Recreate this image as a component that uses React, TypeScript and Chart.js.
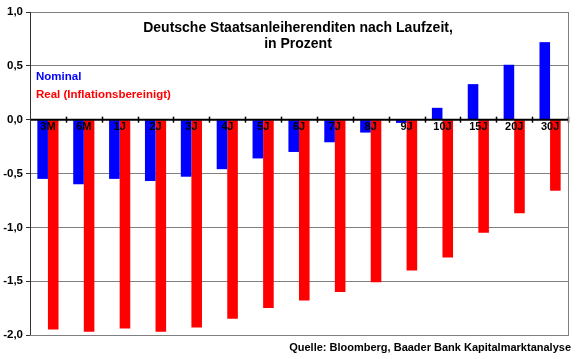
import React, { useEffect, useRef } from "react";
import { Chart, registerables } from "chart.js";

Chart.register(...registerables);

const categories = ["3M", "6M", "1J", "2J", "3J", "4J", "5J", "6J", "7J", "8J", "9J", "10J", "15J", "20J", "30J"];
const nominal = [-0.55, -0.6, -0.55, -0.57, -0.53, -0.46, -0.36, -0.3, -0.21, -0.12, -0.03, 0.11, 0.33, 0.51, 0.72];
const real = [-1.95, -1.97, -1.94, -1.97, -1.93, -1.85, -1.75, -1.68, -1.6, -1.51, -1.4, -1.28, -1.05, -0.87, -0.66];
const titleLines = ["Deutsche Staatsanleiherenditen nach Laufzeit,", "in Prozent"];
const legendLabels = ["Nominal", "Real (Inflationsbereinigt)"];
const sourceText = "Quelle: Bloomberg, Baader Bank Kapitalmarktanalyse";

const FONT = "Arial, 'Liberation Sans', sans-serif";
const BLUE = "#0000ff";
const RED = "#ff0000";

const overlay = {
  id: "overlay",
  afterDatasetsDraw(chart: any) {
    const { ctx, chartArea } = chart;
    const x = chart.scales.x;
    const y = chart.scales.y;
    const y0 = y.getPixelForValue(0);
    ctx.save();
    ctx.strokeStyle = "#000";
    ctx.lineWidth = 2;
    ctx.beginPath();
    ctx.moveTo(chartArea.left, y0);
    ctx.lineTo(chartArea.right, y0);
    ctx.stroke();
    ctx.lineWidth = 1.5;
    const n = categories.length;
    const w = (chartArea.right - chartArea.left) / n;
    for (let i = 1; i <= n; i++) {
      const px = Math.round(chartArea.left + i * w) + 0.5;
      ctx.beginPath();
      ctx.moveTo(px, y0 - 3);
      ctx.lineTo(px, y0 + 3);
      ctx.stroke();
    }
    ctx.fillStyle = "#000";
    ctx.font = `bold 11px ${FONT}`;
    ctx.textAlign = "center";
    ctx.textBaseline = "middle";
    categories.forEach((c, i) => {
      ctx.fillText(c, x.getPixelForValue(i), y0 + 7);
    });
    ctx.restore();
  },
  afterDraw(chart: any) {
    const { ctx, chartArea } = chart;
    ctx.save();
    ctx.strokeStyle = "#808080";
    ctx.lineWidth = 1;
    ctx.strokeRect(chartArea.left + 0.5, chartArea.top + 0.5, chartArea.right - chartArea.left, chartArea.bottom - chartArea.top);
    ctx.strokeStyle = "#333";
    ctx.beginPath();
    ctx.moveTo(chartArea.left + 0.5, chartArea.top);
    ctx.lineTo(chartArea.left + 0.5, chartArea.bottom);
    ctx.stroke();
    ctx.fillStyle = "#000";
    ctx.font = `bold 14px ${FONT}`;
    ctx.textAlign = "center";
    ctx.textBaseline = "middle";
    ctx.fillText(titleLines[0], 298, 28);
    ctx.fillText(titleLines[1], 298, 44);
    ctx.font = `bold 11.5px ${FONT}`;
    ctx.textAlign = "left";
    ctx.fillStyle = BLUE;
    ctx.fillText(legendLabels[0], 36, 77);
    ctx.fillStyle = RED;
    ctx.fillText(legendLabels[1], 36, 95);
    ctx.fillStyle = "#000";
    ctx.font = `bold 11px ${FONT}`;
    ctx.textAlign = "right";
    ctx.fillText(sourceText, 571, 348);
    ctx.restore();
  },
};

export default function App() {
  const ref = useRef<HTMLCanvasElement>(null);
  useEffect(() => {
    document.body.style.margin = "0";
    const chart = new Chart(ref.current as HTMLCanvasElement, {
      type: "bar",
      data: {
        labels: categories,
        datasets: [
          { label: legendLabels[0], data: nominal, backgroundColor: BLUE, barPercentage: 1, categoryPercentage: 0.59 },
          { label: legendLabels[1], data: real, backgroundColor: RED, barPercentage: 1, categoryPercentage: 0.59 },
        ],
      },
      options: {
        responsive: false,
        animation: false,
        layout: { padding: { left: 0, right: 12, top: 12, bottom: 24 } },
        plugins: { legend: { display: false }, tooltip: { enabled: false }, title: { display: false } },
        scales: {
          x: { display: false, offset: true },
          y: {
            min: -2,
            max: 1,
            afterFit: (s: any) => { s.width = 30; },
            ticks: {
              stepSize: 0.5,
              color: "#000",
              font: { family: FONT, weight: "bold", size: 11.5 },
              padding: 3,
              callback: (v: any) => Number(v).toFixed(1).replace(".", ","),
            },
            grid: { color: "#808080", lineWidth: 1, tickLength: 4, tickColor: "#333" },
            border: { display: false },
          },
        },
      },
      plugins: [overlay],
    });
    return () => chart.destroy();
  }, []);
  return (
    <div style={{ position: "absolute", left: 0, top: 0, width: 580, height: 359, background: "#fff" }}>
      <canvas ref={ref} width={580} height={359} />
    </div>
  );
}
